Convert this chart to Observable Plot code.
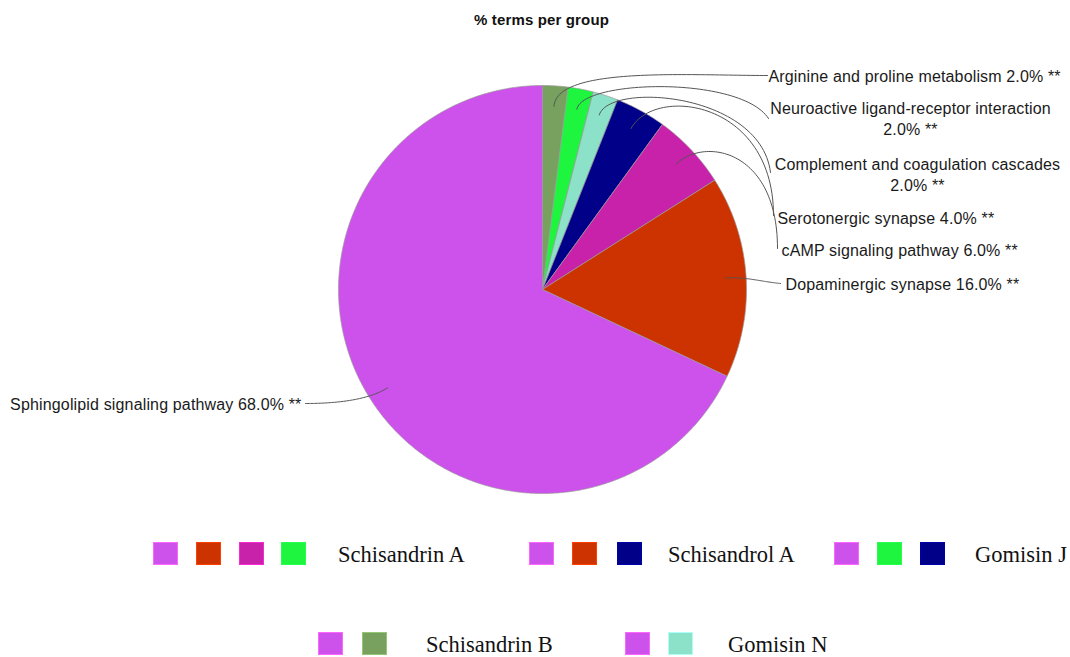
<!DOCTYPE html>
<html><head><meta charset="utf-8">
<script src="https://cdn.jsdelivr.net/npm/d3@7"></script>
<script src="https://cdn.jsdelivr.net/npm/@observablehq/plot@0.6"></script>
<style>
body{margin:0;background:#fff;}
#wrap{position:relative;width:1070px;height:657px;overflow:hidden;background:#fff;}
#wrap svg text{letter-spacing:0.15px;}
.sq{position:absolute;width:25px;height:23px;box-sizing:border-box;}
.lt{position:absolute;font-family:"Liberation Serif","Times New Roman",serif;font-size:22.5px;color:#111;line-height:1;white-space:nowrap;}
</style></head><body><div id="wrap"></div>
<script>
// ---- data ----
const title = "% terms per group";
const pathways = [
  "Arginine and proline metabolism",
  "Neuroactive ligand-receptor interaction",
  "Complement and coagulation cascades",
  "Serotonergic synapse",
  "cAMP signaling pathway",
  "Dopaminergic synapse",
  "Sphingolipid signaling pathway"
];
const percents = [2.0, 2.0, 2.0, 4.0, 6.0, 16.0, 68.0];
const significance = ["**", "**", "**", "**", "**", "**", "**"];
const colors = ["#78a05f", "#1ef53e", "#8ce2c9", "#000088", "#c821aa", "#cc3300", "#cd52ec"];
const groups = ["Schisandrin A", "Schisandrol A", "Gomisin J", "Schisandrin B", "Gomisin N"];
const groupMembers = [
  ["Sphingolipid signaling pathway", "Dopaminergic synapse", "cAMP signaling pathway", "Neuroactive ligand-receptor interaction"],
  ["Sphingolipid signaling pathway", "Dopaminergic synapse", "Serotonergic synapse"],
  ["Sphingolipid signaling pathway", "Neuroactive ligand-receptor interaction", "Serotonergic synapse"],
  ["Sphingolipid signaling pathway", "Arginine and proline metabolism"],
  ["Sphingolipid signaling pathway", "Complement and coagulation cascades"]
];
const wrapAt = [false, true, true, false, false, false, false];

// ---- layout ----
const W = 1070, H = 520, cx = 542, cy = 289, R = 204;
const labelLayout = [
  {tx: 768, ty: 75,    anchor: "start",  ex: 767, ey: 75,  c2dx: -80, c2dy: 0,    L: 40},
  {tx: 910, ty: 117.5, anchor: "middle", ex: 768, ey: 118, c2dx: -28, c2dy: -43,  L: 30},
  {tx: 917, ty: 173.5, anchor: "middle", ex: 770, ey: 172, c2dx: -10, c2dy: -80,  L: 35},
  {tx: 777, ty: 217,   anchor: "start",  ex: 773, ey: 215, c2dx: 0,   c2dy: -115, L: 50},
  {tx: 781, ty: 249,   anchor: "start",  ex: 777, ey: 248, c2dx: 0,   c2dy: -98,  L: 40},
  {tx: 785, ty: 283,   anchor: "start",  ex: 780, ey: 283, c2dx: -20, c2dy: -2,   L: 20},
  {tx: 301, ty: 403,   anchor: "end",    ex: 305, ey: 403, c2dx: 25,  c2dy: 0,    L: 25}
];
const legendLayout = [
  {sq: [153, 196, 239, 281], text: 338, top: 542},
  {sq: [529, 572, 617],      text: 668, top: 542},
  {sq: [834, 877, 920],      text: 975, top: 542},
  {sq: [318, 362],           text: 426, top: 632},
  {sq: [625, 668],           text: 728, top: 632}
];

// ---- build ----
const rows = pathways.map((name, i) => ({name, pct: percents[i], sig: significance[i]}));
const arcs = d3.pie().sort(null).value(d => d.pct)(rows);

const slicePts = [];
for (const a of arcs) {
  const name = a.data.name;
  slicePts.push({name, x: cx, y: cy});
  const n = Math.max(2, Math.ceil((a.endAngle - a.startAngle) / 0.008));
  for (let i = 0; i <= n; i++) {
    const t = a.startAngle + (a.endAngle - a.startAngle) * i / n;
    slicePts.push({name, x: cx + R * Math.sin(t), y: cy - R * Math.cos(t)});
  }
  slicePts.push({name, x: cx, y: cy});
}

function cubic(p0, p1, p2, p3, n) {
  const out = [];
  for (let i = 0; i <= n; i++) {
    const t = i / n, u = 1 - t;
    out.push([
      u*u*u*p0[0] + 3*u*u*t*p1[0] + 3*u*t*t*p2[0] + t*t*t*p3[0],
      u*u*u*p0[1] + 3*u*u*t*p1[1] + 3*u*t*t*p2[1] + t*t*t*p3[1]
    ]);
  }
  return out;
}

const leaderPts = [];
const labels = [];
arcs.forEach((a, i) => {
  const lay = labelLayout[i];
  const mid = (a.startAngle + a.endAngle) / 2;
  const dx = Math.sin(mid), dy = -Math.cos(mid);
  const p0 = [cx + 0.9 * R * dx, cy + 0.9 * R * dy];
  const p1 = [p0[0] + lay.L * dx, p0[1] + lay.L * dy];
  const p3 = [lay.ex, lay.ey];
  const p2 = [p3[0] + lay.c2dx, p3[1] + lay.c2dy];
  for (const [x, y] of cubic(p0, p1, p2, p3, 60)) leaderPts.push({name: a.data.name, x, y});
  const pctText = a.data.pct.toFixed(1) + "% " + a.data.sig;
  labels.push({
    text: a.data.name + (wrapAt[i] ? "\n" : " ") + pctText,
    x: lay.tx, y: lay.ty, anchor: lay.anchor
  });
});

const textOpts = {fontFamily: "Liberation Sans, Arial, sans-serif", fontSize: 16, fill: "#1a1a1a", lineHeight: 1.31};
const chart = Plot.plot({
  width: W, height: H, margin: 0,
  x: {type: "linear", domain: [0, W], range: [0, W], axis: null},
  y: {type: "linear", domain: [0, H], range: [0, H], axis: null},
  color: {domain: pathways, range: colors},
  marks: [
    Plot.line(slicePts, {x: "x", y: "y", z: "name", fill: "name", stroke: "#9a9a9a", strokeWidth: 0.7, curve: "linear"}),
    Plot.line(leaderPts, {x: "x", y: "y", z: "name", stroke: "#555", strokeWidth: 1, curve: "linear"}),
    ...["start", "middle", "end"].map(anc =>
      Plot.text(labels.filter(d => d.anchor === anc), {x: "x", y: "y", text: "text", textAnchor: anc, ...textOpts})),
    Plot.text([title], {frameAnchor: "top", dx: 6, dy: 20, lineAnchor: "middle", fontWeight: "bold", fontSize: 15,
      fontFamily: "Liberation Sans, Arial, sans-serif", fill: "#111"})
  ]
});
const wrap = document.getElementById("wrap");
wrap.appendChild(chart);

// legend (HTML, below the chart)
const colorOf = Object.fromEntries(pathways.map((p, i) => [p, colors[i]]));
groups.forEach((g, gi) => {
  const lay = legendLayout[gi];
  groupMembers[gi].forEach((m, k) => {
    const s = document.createElement("div");
    s.className = "sq";
    s.style.left = lay.sq[k] + "px";
    s.style.top = lay.top + "px";
    s.style.background = colorOf[m];
    s.style.border = "1px solid " + d3.color(colorOf[m]).brighter(0.6).formatHex();
    wrap.appendChild(s);
  });
  const t = document.createElement("div");
  t.className = "lt";
  t.textContent = g;
  t.style.left = lay.text + "px";
  t.style.top = (lay.top + 1.5) + "px";
  wrap.appendChild(t);
});
</script></body></html>
